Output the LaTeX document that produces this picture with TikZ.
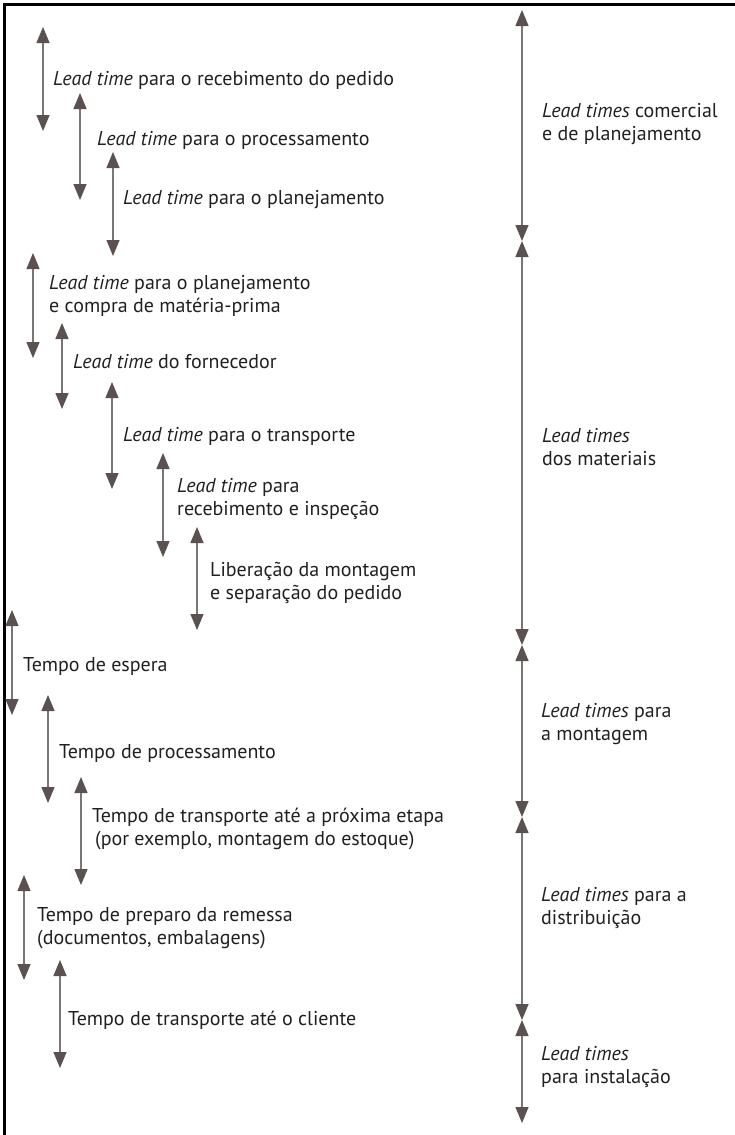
\documentclass[tikz,border=0pt]{standalone}
\usepackage{fontspec}
\setmainfont{PT Sans}
\usetikzlibrary{arrows.meta}
\definecolor{headc}{HTML}{5A5150}
\definecolor{linec}{HTML}{7A7676}
\definecolor{txtc}{HTML}{231F20}
\tikzset{
  dbl/.style={draw=linec, line width=1.3pt,
    {Triangle[width=13pt,length=16pt,fill=headc,color=headc]}-{Triangle[width=13pt,length=16pt,fill=headc,color=headc]}},
  lbl/.style={anchor=west, inner sep=0pt, align=left, text=txtc,
    font=\fontsize{20}{23}\selectfont},
  frame/.style={draw=black, line width=3pt}
}
\begin{document}
\begin{tikzpicture}[x=1pt,y=-1pt]
\useasboundingbox (0,0) rectangle (735,1135);
\coordinate (fb) at (4.5,1135);
\coordinate (fc) at (4.5,4.5);
\coordinate (fr) at (735,4.5);
\draw[frame] (fb) -- (fc) -- (fr);

% left arrows
\coordinate (a1t) at (43,27);   \coordinate (a1b) at (43,131);
\coordinate (a2t) at (80,93);   \coordinate (a2b) at (80,200);
\coordinate (a3t) at (113,152); \coordinate (a3b) at (113,256);
\coordinate (a4t) at (33,253);  \coordinate (a4b) at (33,358);
\coordinate (a5t) at (62,323);  \coordinate (a5b) at (62,409);
\coordinate (a6t) at (112,382); \coordinate (a6b) at (112,489);
\coordinate (a7t) at (163,453); \coordinate (a7b) at (163,557);
\coordinate (a8t) at (197,527); \coordinate (a8b) at (197,630);
\coordinate (a9t) at (12,610);  \coordinate (a9b) at (12,715);
\coordinate (a10t) at (48,695); \coordinate (a10b) at (48,803);
\coordinate (a11t) at (81,777); \coordinate (a11b) at (81,885);
\coordinate (a12t) at (24,875); \coordinate (a12b) at (24,980);
\coordinate (a13t) at (60,960); \coordinate (a13b) at (60,1068);
\foreach \i in {1,...,13} {\draw[dbl] (a\i t) -- (a\i b);}

\node[lbl] (t1) at (53,80) {\textit{Lead time} para o recebimento do pedido};
\node[lbl] (t2) at (97,140) {\textit{Lead time} para o processamento};
\node[lbl] (t3) at (123,200) {\textit{Lead time} para o planejamento};
\node[lbl] (t4) at (49,296) {\textit{Lead time} para o planejamento\\e compra de matéria-prima};
\node[lbl] (t5) at (73,362) {\textit{Lead time} do fornecedor};
\node[lbl] (t6) at (123,436) {\textit{Lead time} para o transporte};
\node[lbl] (t7) at (177,499) {\textit{Lead time} para\\recebimento e inspeção};
\node[lbl] (t8) at (210,583) {Liberação da montagem\\e separação do pedido};
\node[lbl] (t9) at (23,666) {Tempo de espera};
\node[lbl] (t10) at (59,753) {Tempo de processamento};
\node[lbl] (t11) at (92,829) {Tempo de transporte até a próxima etapa\\\hspace*{3pt}(por exemplo, montagem do estoque)};
\node[lbl] (t12) at (37,928) {Tempo de preparo da remessa\\(documentos, embalagens)};
\node[lbl] (t13) at (68,1020) {Tempo de transporte até o cliente};

% right column
\coordinate (r0) at (522,10);
\coordinate (r1) at (522,241);
\coordinate (r2) at (522,645);
\coordinate (r3) at (522,817);
\coordinate (r4) at (522,1020);
\coordinate (r5) at (522,1123);
\draw[dbl] (r0) -- (r1);
\draw[dbl] (r1) -- (r2);
\draw[dbl] (r2) -- (r3);
\draw[dbl] (r3) -- (r4);
\draw[dbl] (r4) -- (r5);

\node[lbl] (s1) at (542,124) {\textit{Lead times} comercial\\e de planejamento};
\node[lbl] (s2) at (542,447) {\textit{Lead times}\\dos materiais};
\node[lbl] (s3) at (541,724) {\textit{Lead times} para\\a montagem};
\node[lbl] (s4) at (541,908) {\textit{Lead times} para a\\distribuição};
\node[lbl] (s5) at (541,1067) {\textit{Lead times}\\para instalação};
\end{tikzpicture}
\end{document}
